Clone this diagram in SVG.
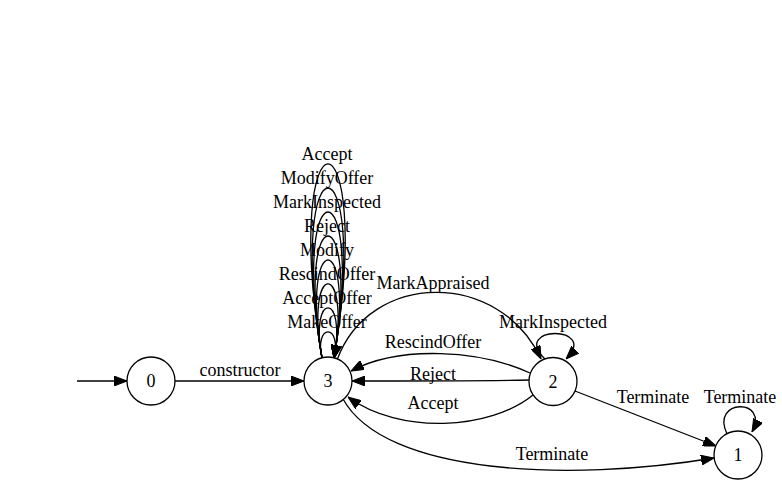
<svg xmlns="http://www.w3.org/2000/svg" width="782" height="484" viewBox="0 0 782 484">
<defs>
<marker id="ah" markerWidth="13" markerHeight="10" refX="13" refY="5" orient="auto" markerUnits="userSpaceOnUse">
<path d="M0,0 L13,5 L0,10 z" fill="#000" stroke="#000" stroke-width="1"/>
</marker>
<style>
text{font-family:"Liberation Serif","Times New Roman",serif;font-size:18px;fill:#000;text-anchor:middle}
.node circle{fill:#fff;stroke:#000;stroke-width:1.3}
.edges path{fill:none;stroke:#000;stroke-width:1.3;marker-end:url(#ah)}
</style>
</defs>
<rect width="782" height="484" fill="#fff"/>
<g class="edges" id="edges">
<path d="M77,381 L127,381"/>
<path d="M175,381 L304,381"/>
<path d="M322,358 C314,323.3 342,323.3 334,358"/>
<path d="M322,358 C309,291.3 347,291.3 334,358"/>
<path d="M322,358 C304,259.3 352,259.3 334,358"/>
<path d="M322,358 C299,227.3 357,227.3 334,358"/>
<path d="M322,358 C294,195.3 362,195.3 334,358"/>
<path d="M322,358 C289,163.3 367,163.3 334,358"/>
<path d="M322,358 C284,131.3 372,131.3 334,358"/>
<path d="M322,358 C279,99.3 377,99.3 334,358"/>
<path d="M337,360 C370,270 500,270 541,359"/>
<path d="M545,359 C510,325 600,325 566,359"/>
<path d="M530,373 C480,350 400,345 351,371"/>
<path d="M529,380 C470,381 410,381 352,381"/>
<path d="M533,395 C490,430 400,435 348,397"/>
<path d="M343,399 C385,475 570,482 714,458"/>
<path d="M575,391 L716,446"/>
<path d="M727,434 C710,398 770,398 752,432"/>
</g>
<g id="edge-labels">
<text x="240" y="376">constructor</text>
<text x="327" y="328">MakeOffer</text>
<text x="327" y="304">AcceptOffer</text>
<text x="327" y="280">RescindOffer</text>
<text x="327" y="256">Modify</text>
<text x="327" y="232">Reject</text>
<text x="327" y="208">MarkInspected</text>
<text x="327" y="184">ModifyOffer</text>
<text x="327" y="160">Accept</text>
<text x="433" y="289">MarkAppraised</text>
<text x="553" y="328">MarkInspected</text>
<text x="433" y="348">RescindOffer</text>
<text x="433" y="380">Reject</text>
<text x="433" y="409">Accept</text>
<text x="653" y="403">Terminate</text>
<text x="740" y="403">Terminate</text>
<text x="552" y="460">Terminate</text>
</g>
<g id="node0" class="node"><circle cx="151" cy="381" r="24"/><text x="151" y="387">0</text></g>
<g id="node3" class="node"><circle cx="328" cy="381" r="24"/><text x="328" y="387">3</text></g>
<g id="node2" class="node"><circle cx="553" cy="381.5" r="24"/><text x="553" y="387.5">2</text></g>
<g id="node1" class="node"><circle cx="738" cy="455" r="24"/><text x="738" y="461">1</text></g>
</svg>
